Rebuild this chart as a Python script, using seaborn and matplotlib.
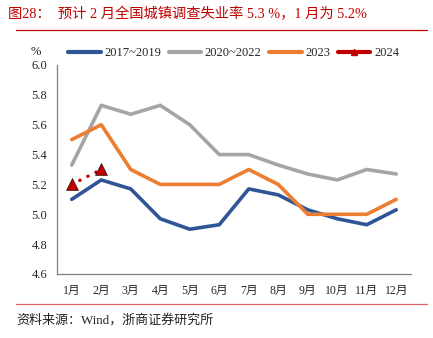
import matplotlib
matplotlib.use("Agg")
import matplotlib.pyplot as plt
from matplotlib.lines import Line2D
import seaborn as sns
import pandas as pd
import numpy as np

months = ["1月", "2月", "3月", "4月", "5月", "6月", "7月", "8月", "9月", "10月", "11月", "12月"]
s_1719 = [5.10, 5.23, 5.17, 4.97, 4.90, 4.93, 5.17, 5.13, 5.03, 4.97, 4.93, 5.03]
s_2022 = [5.33, 5.73, 5.67, 5.73, 5.60, 5.40, 5.40, 5.33, 5.27, 5.23, 5.30, 5.27]
s_2023 = [5.50, 5.60, 5.30, 5.20, 5.20, 5.20, 5.30, 5.20, 5.00, 5.00, 5.00, 5.10]
s_2024 = [5.2, 5.3]
names = ["2017~2019", "2020~2022", "2023", "2024"]
colors = ["#2F5597", "#A5A5A5", "#ED7D31", "#C00000"]

sns.set_style("white")
plt.rcParams['font.family'] = ['Liberation Serif', 'Noto Sans CJK SC', 'DejaVu Sans']

fig = plt.figure(figsize=(4.33, 3.38), dpi=100)
ax = fig.add_axes([57/433, 1-274/338, (411-57)/433, (274-65)/338])

pos = np.arange(len(months))
for vals, name, c in zip([s_1719, s_2022, s_2023], names[:3], colors[:3]):
    df = pd.DataFrame({"x": pos[:len(vals)], "y": vals})
    sns.lineplot(data=df, x="x", y="y", ax=ax, color=c, linewidth=2.6, legend=False)
df24 = pd.DataFrame({"x": pos[:len(s_2024)], "y": s_2024})
sns.lineplot(data=df24, x="x", y="y", ax=ax, color=colors[3], linewidth=2.4,
             linestyle=(0, (0.1, 2.6)), marker="^", markersize=9,
             markeredgecolor="black", markeredgewidth=0.4, legend=False,
             dash_capstyle="round")

ax.set_xlim(-0.5, 11.5)
ax.set_ylim(4.6, 6.0)
ax.set_yticks(np.arange(4.6, 6.01, 0.2))
ax.set_yticklabels([f"{v:.1f}" for v in np.arange(4.6, 6.01, 0.2)], fontsize=9)
ax.set_xticks(pos)
ax.set_xticklabels(months, fontsize=8.5)
ax.set_xticks(np.arange(-0.5, 12, 1), minor=True)
ax.tick_params(axis="x", which="major", length=0, pad=8)
ax.tick_params(axis="x", which="minor", length=4, color="#808080", width=0.8, direction="out")
ax.tick_params(axis="y", length=5, color="#808080", width=0.8, direction="out", pad=2)
ax.set_xlabel("")
ax.set_ylabel("")
for s in ["top", "right"]:
    ax.spines[s].set_visible(False)
for s in ["left", "bottom"]:
    ax.spines[s].set_color("#808080")
    ax.spines[s].set_linewidth(0.9)

handles = [Line2D([], [], color=c, linewidth=3) for c in colors[:3]]
handles.append(Line2D([], [], color=colors[3], linewidth=3, marker="^", markersize=4))
fig.legend(handles, names, loc="center left", bbox_to_anchor=(68/433, 1-53/338), ncol=4,
           frameon=False, fontsize=9, handlelength=2.6, handletextpad=0.3,
           columnspacing=0.6, borderaxespad=0, borderpad=0)

fig.text(36/433, 1-52/338, "%", fontsize=9, ha="center", va="center")

fig.text(8/433, 1-14/338, "图28：  预计 2 月全国城镇调查失业率 5.3 %，1 月为 5.2%",
         fontsize=10.3, color="#C00000", ha="left", va="center")
fig.add_artist(Line2D([16/433, 427/433], [1-30/338, 1-30/338], color="#C00000", linewidth=0.9))
fig.add_artist(Line2D([16/433, 427/433], [1-304/338, 1-304/338], color="#E06060", linewidth=0.9))
fig.text(16/433, 1-320/338, "资料来源：Wind，浙商证券研究所", fontsize=9.4, color="#222222",
         ha="left", va="center")

fig.savefig("out.png", dpi=100)
